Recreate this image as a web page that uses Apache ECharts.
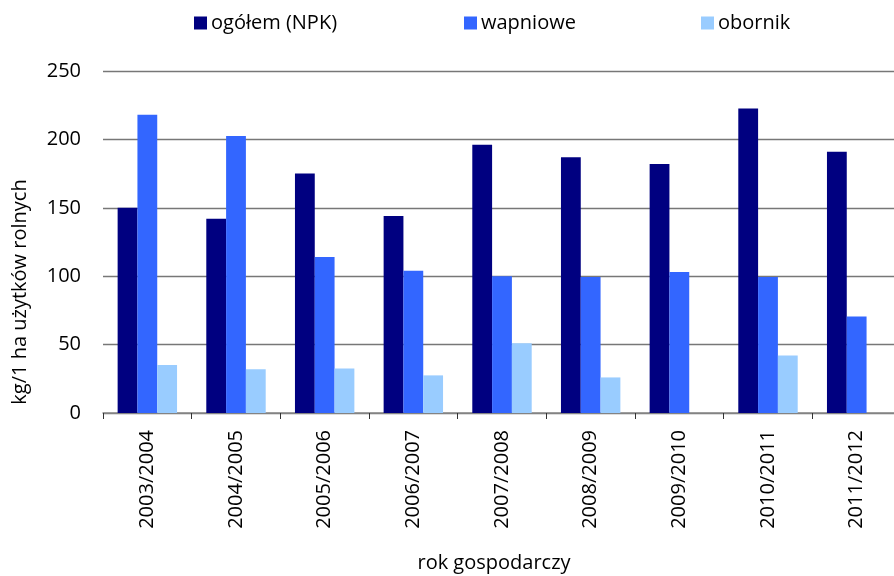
<!DOCTYPE html>
<html>
<head>
<meta charset="utf-8">
<script src="https://cdn.jsdelivr.net/npm/echarts@6/dist/echarts.min.js"></script>
<style>
  html, body { margin: 0; padding: 0; background: #fff; }
  #chart { width: 894px; height: 576px; }
</style>
</head>
<body>
<div id="chart"></div>
<script>
// Farm years (rok gospodarczy)
const years = ['2003/2004', '2004/2005', '2005/2006', '2006/2007', '2007/2008',
               '2008/2009', '2009/2010', '2010/2011', '2011/2012'];

// Fertiliser use, kg per 1 ha of agricultural land
const npk      = [150, 142, 175, 144, 196, 187, 182, 222.5, 191];
const wapniowe = [218, 202.5, 114, 104, 100, 99.5, 103, 99.5, 70.5];
const obornik  = [35, 32, 32.5, 27.5, 51, 26, 0, 42, 0];

const yTicks = [0, 50, 100, 150, 200, 250];

const seriesNames = ['ogółem (NPK)', 'wapniowe', 'obornik'];
const colors = ['#000080', '#3366FF', '#99CCFF'];

const FONT = '"Open Sans", sans-serif';

const chart = echarts.init(document.getElementById('chart'), null, { renderer: 'canvas' });

function legendFor(name, left) {
  return {
    data: [name],
    left: left,
    top: 8,
    itemWidth: 13,
    itemHeight: 13,
    itemGap: 0,
    icon: 'rect',
    textStyle: { fontFamily: FONT, fontSize: 20, color: '#000', padding: [0, 0, 0, -1] }
  };
}

const option = {
  animation: false,
  backgroundColor: '#fff',
  color: colors,
  legend: [
    legendFor(seriesNames[0], 189),
    legendFor(seriesNames[1], 459),
    legendFor(seriesNames[2], 696)
  ],
  grid: { left: 103, top: 71, width: 798, height: 342, containLabel: false, outerBoundsMode: 'none' },
  xAxis: {
    type: 'category',
    data: years,
    axisLine: { show: true, lineStyle: { color: '#888', width: 1.5 } },
    axisTick: { show: true, alignWithLabel: false, length: 6, lineStyle: { color: '#333' } },
    axisLabel: {
      rotate: 90,
      margin: 17,
      fontFamily: FONT,
      fontSize: 20,
      color: '#000'
    }
  },
  yAxis: {
    type: 'value',
    min: yTicks[0],
    max: yTicks[yTicks.length - 1],
    interval: 50,
    axisLine: { show: false },
    axisTick: { show: false },
    splitLine: { show: true, lineStyle: { color: '#777', width: 1.3 } },
    axisLabel: {
      margin: 22,
      fontFamily: FONT,
      fontSize: 20,
      color: '#000'
    }
  },
  series: [
    { name: seriesNames[0], type: 'bar', data: npk, barGap: '0%', barCategoryGap: '33%' },
    { name: seriesNames[1], type: 'bar', data: wapniowe, barGap: '0%', barCategoryGap: '33%' },
    { name: seriesNames[2], type: 'bar', data: obornik, barGap: '0%', barCategoryGap: '33%' }
  ],
  graphic: [
    {
      type: 'text',
      x: 20,
      y: 292,
      rotation: Math.PI / 2,
      style: {
        text: 'kg/1 ha użytków rolnych',
        fontFamily: FONT,
        fontSize: 20,
        fill: '#000',
        align: 'center',
        verticalAlign: 'middle'
      }
    },
    {
      type: 'text',
      x: 494,
      y: 563,
      style: {
        text: 'rok gospodarczy',
        fontFamily: FONT,
        fontSize: 20,
        fill: '#000',
        align: 'center',
        verticalAlign: 'middle'
      }
    }
  ]
};

chart.setOption(option);
</script>
</body>
</html>
